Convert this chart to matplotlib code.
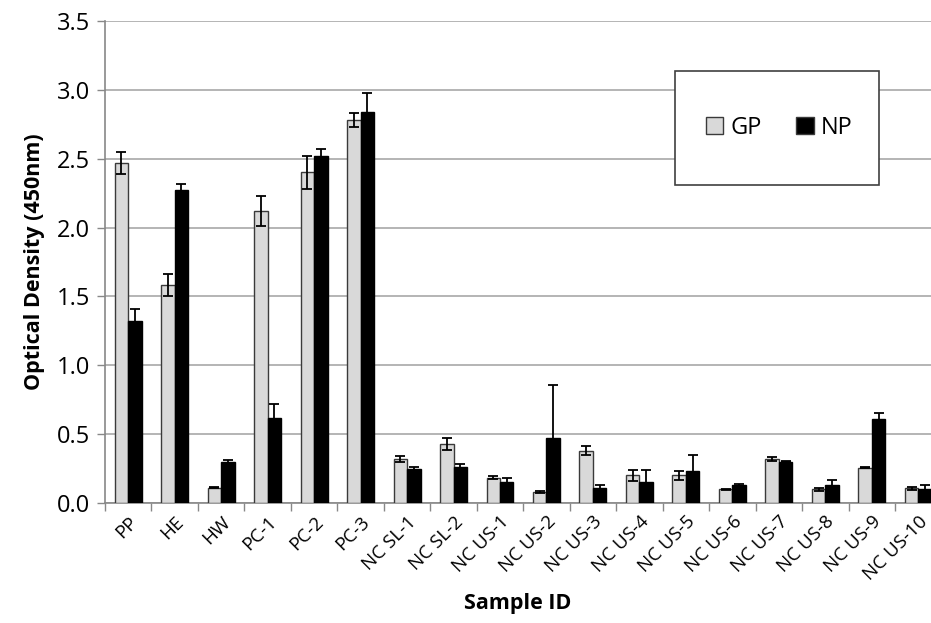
import matplotlib
matplotlib.use("Agg")
import matplotlib.pyplot as plt
from matplotlib.patches import Rectangle
import numpy as np

samples = ["PP", "HE", "HW", "PC-1", "PC-2", "PC-3", "NC SL-1", "NC SL-2",
           "NC US-1", "NC US-2", "NC US-3", "NC US-4", "NC US-5", "NC US-6",
           "NC US-7", "NC US-8", "NC US-9", "NC US-10"]
gp = [2.47, 1.58, 0.11, 2.12, 2.40, 2.78, 0.32, 0.43,
      0.185, 0.08, 0.38, 0.20, 0.20, 0.10, 0.32, 0.10, 0.256, 0.107]
gp_err = [0.08, 0.08, 0.003, 0.11, 0.12, 0.05, 0.02, 0.045,
          0.01, 0.005, 0.035, 0.037, 0.033, 0.003, 0.015, 0.01, 0.005, 0.01]
np_vals = [1.32, 2.27, 0.30, 0.62, 2.52, 2.84, 0.244, 0.26,
           0.15, 0.475, 0.112, 0.15, 0.23, 0.132, 0.30, 0.13, 0.61, 0.10]
np_err = [0.09, 0.05, 0.01, 0.10, 0.05, 0.14, 0.02, 0.025,
          0.03, 0.38, 0.022, 0.09, 0.12, 0.005, 0.005, 0.035, 0.045, 0.03]

plt.rcParams["font.family"] = ["Open Sans", "DejaVu Sans"]

W, H = 931, 623
fig = plt.figure(figsize=(W / 100, H / 100), dpi=100)
# axes extends a bit past the right edge, as in the cropped original
ax = fig.add_axes([105 / W, 1 - 503 / H, 836.5 / W, 482 / H])

x = np.arange(len(samples))
w = 0.29
ekw = dict(ecolor="black", elinewidth=1.3, capsize=3.5, capthick=1.3)
ax.bar(x - w / 2, gp, w, yerr=gp_err, color="#d9d9d9", edgecolor="#3a3a3a",
       linewidth=1.0, error_kw=ekw, label="GP", zorder=3)
ax.bar(x + w / 2, np_vals, w, yerr=np_err, color="black", edgecolor="black",
       linewidth=1.0, error_kw=ekw, label="NP", zorder=3)

ax.set_xlim(-0.5, len(samples) - 0.5)
ax.set_ylim(0, 3.5)
ax.set_yticks(np.arange(0, 3.51, 0.5))
ax.set_yticklabels([f"{v:.1f}" for v in np.arange(0, 3.51, 0.5)], fontsize=17)
ax.yaxis.grid(True, color="#a8a8a8", linewidth=1.2, zorder=0)
ax.set_axisbelow(True)

ax.set_xticks(x)
ax.set_xticklabels(samples, rotation=45, ha="right", rotation_mode="anchor",
                   fontsize=13.5)
ax.tick_params(axis="x", length=0, pad=7)
ax.set_xticks(np.arange(-0.5, len(samples), 1), minor=True)
ax.tick_params(axis="x", which="minor", length=6, color="#888888", width=1)
ax.tick_params(axis="y", length=6, color="#888888", width=1, pad=5)

for s in ["top", "right"]:
    ax.spines[s].set_visible(False)
for s in ["left", "bottom"]:
    ax.spines[s].set_color("#888888")
    ax.spines[s].set_linewidth(1.2)

ax.set_ylabel("Optical Density (450nm)", fontsize=15.5, fontweight="bold",
              labelpad=8)
fig.text(518 / W, 1 - 604 / H, "Sample ID", ha="center", va="center",
         fontsize=15.5, fontweight="bold")

# legend: white box drawn by hand, entries centred inside
ax.add_patch(Rectangle((675 / W, 1 - 185 / H), 204 / W, 114 / H,
                       transform=fig.transFigure, facecolor="white",
                       edgecolor="#404040", linewidth=1.2, zorder=5,
                       clip_on=False))
leg = ax.legend(loc="center", bbox_to_anchor=(779 / W, 1 - 128 / H),
                bbox_transform=fig.transFigure, ncol=2, fontsize=17,
                frameon=False, handlelength=0.75, handleheight=0.75,
                columnspacing=1.45, handletextpad=0.3, borderaxespad=0)
leg.set_zorder(6)
for p in leg.get_patches():
    p.set_edgecolor("#3a3a3a")

fig.savefig("out.png", dpi=100)
